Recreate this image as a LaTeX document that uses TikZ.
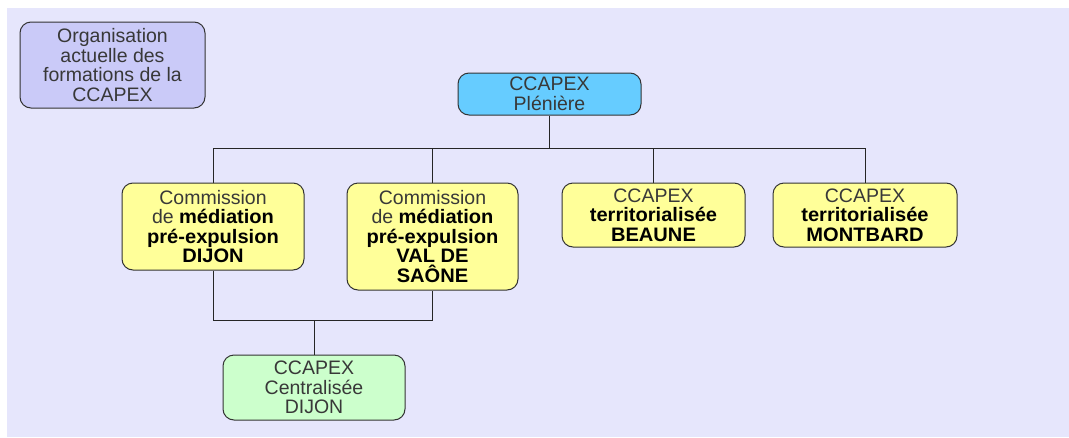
\documentclass[tikz,border=0pt]{standalone}
\usepackage{fontspec}
\setmainfont{Liberation Sans}[BoldFeatures={FakeStretch=1.03}]
\begin{document}
\begin{tikzpicture}[x=1pt,y=-1pt,
  box/.style={draw=black!80, line width=1pt, rounded corners=11pt, align=center,
    inner sep=0pt, font=\fontsize{19.5}{19.5}\selectfont, text=black!78},
  conn/.style={draw=black!85, line width=0.9pt}]
\definecolor{bgl}{HTML}{E6E6FC}
\definecolor{orgc}{HTML}{CACAF8}
\definecolor{plenc}{HTML}{66CCFF}
\definecolor{yelc}{HTML}{FFFF99}
\definecolor{grnc}{HTML}{CCFFCC}
\newcommand{\bk}[1]{\textcolor{black}{\textbf{#1}}}
\fill[white] (0,0) rectangle (1069,437);
\fill[bgl] (7,8) rectangle (1069,437);
\useasboundingbox (0,0) rectangle (1069,437);

\node[box, fill=orgc, minimum width=185pt, minimum height=86pt] (org) at (112.5,65)
  {Organisation\\actuelle des\\formations de la\\CCAPEX};
\node[box, fill=plenc, minimum width=183pt, minimum height=42pt] (plen) at (549.5,94)
  {CCAPEX\\Plénière};
\node[box, fill=yelc, minimum width=182pt, minimum height=87pt] (dijon) at (213,226.5)
  {Commission\\de \bk{médiation}\\\bk{pré-expulsion}\\\bk{DIJON}};
\node[box, fill=yelc, minimum width=171pt, minimum height=107pt] (val) at (432.5,236.5)
  {Commission\\de \bk{médiation}\\\bk{pré-expulsion}\\\bk{VAL DE}\\\bk{SAÔNE}};
\node[box, fill=yelc, minimum width=183pt, minimum height=64pt] (beaune) at (653.5,215)
  {CCAPEX\\\bk{territorialisée}\\\bk{BEAUNE}};
\node[box, fill=yelc, minimum width=184pt, minimum height=64pt] (montbard) at (865,215)
  {CCAPEX\\\bk{territorialisée}\\\bk{MONTBARD}};
\node[box, fill=grnc, minimum width=182pt, minimum height=65pt] (central) at (314,387.5)
  {CCAPEX\\Centralisée\\DIJON};

\coordinate (bus) at (0,148);
\coordinate (bustwo) at (0,320);
\draw[conn] (plen.south) -- (plen.south |- bus);
\draw[conn] (dijon.north) |- (montbard.north |- bus) -- (montbard.north);
\draw[conn] (val.north) -- (val.north |- bus);
\draw[conn] (beaune.north) -- (beaune.north |- bus);
\draw[conn] (dijon.south) |- (val.south |- bustwo) -- (val.south);
\draw[conn] (central.north) -- (central.north |- bustwo);
\end{tikzpicture}
\end{document}
